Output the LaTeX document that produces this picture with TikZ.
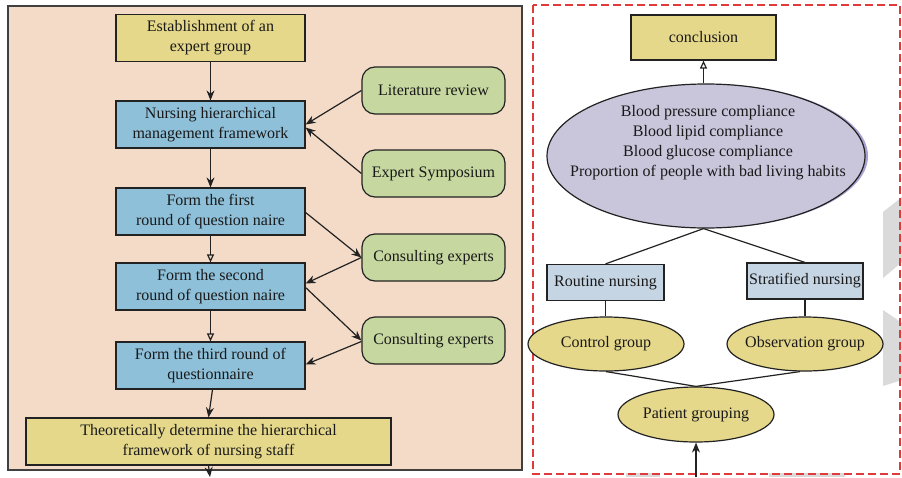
\documentclass[tikz,border=0pt]{standalone}
\usepackage{fontspec}
\setmainfont{Liberation Serif}
\usetikzlibrary{arrows.meta,shapes.geometric}
\definecolor{peach}{HTML}{F3DBC7}
\definecolor{yel}{HTML}{E5D88B}
\definecolor{blu}{HTML}{8FC0D9}
\definecolor{grn}{HTML}{C6D7A0}
\definecolor{lav}{HTML}{C9C5DB}
\definecolor{lavsh}{HTML}{A9A2D0}
\definecolor{gbox}{HTML}{C6D5E4}
\definecolor{edge}{HTML}{222222}
\definecolor{dashred}{HTML}{E03A3A}
\definecolor{wm}{HTML}{DADADA}
\begin{document}
\begin{tikzpicture}[x=1pt,y=-1pt,
  txt/.style={font=\fontsize{16}{20}\selectfont, align=center, text=black!90},
  box/.style={txt, draw=edge, line width=1.2pt, minimum width=189pt, minimum height=47pt, inner sep=1pt},
  ybox/.style={box, fill=yel},
  bbox/.style={box, fill=blu},
  gpill/.style={txt, draw=edge, line width=1.2pt, fill=grn, rounded corners=13pt, minimum width=143pt, minimum height=47pt, inner sep=1pt},
  sbox/.style={txt, draw=edge, line width=1.2pt, fill=gbox, minimum height=36pt, inner sep=1pt},
  yell/.style={txt, ellipse, draw=edge, line width=1.2pt, fill=yel, minimum width=156pt, minimum height=54pt, inner sep=-7pt},
  arr/.style={-{Stealth[length=10pt,width=8pt]}, line width=1.2pt, draw=edge},
  oarr/.style={-{Triangle[open,length=8pt,width=7pt]}, line width=1.2pt, draw=edge},
  ln/.style={line width=1.2pt, draw=edge}]
\useasboundingbox (0,0) rectangle (902,477);
\fill[white] (0,0) rectangle (902,477);
% watermark fragments
\fill[wm] (883,212) -- (902,197) -- (902,262) -- (883,278) -- cycle;
\fill[wm] (883,310) -- (902,323) -- (902,380) -- (883,386) -- cycle;
\fill[wm] (626,473) rectangle (660,477);
\fill[wm] (769,473) rectangle (845,477);
% left panel
\draw[fill=peach, draw=black!75, line width=1.5pt] (8,6) rectangle (522,470);
\node[ybox] (est) at (210.5,38) {Establishment of an\\expert group};
\node[bbox] (nhm) at (210.5,124.5) {Nursing hierarchical\\management framework};
\node[bbox] (first) at (210.5,211.5) {Form the first\\round of question naire};
\node[bbox] (second) at (210.5,286.5) {Form the second\\round of question naire};
\node[bbox] (third) at (210.5,365.5) {Form the third round of\\questionnaire};
\node[ybox, minimum width=365pt] (theo) at (208.5,441.5) {Theoretically determine the hierarchical\\framework of nursing staff};
\node[gpill] (lit) at (433.5,90.5) {Literature review};
\node[gpill] (sym) at (433.5,173.5) {Expert Symposium};
\node[gpill] (ce1) at (433.5,257.5) {Consulting experts};
\node[gpill] (ce2) at (433.5,340.5) {Consulting experts};
\coordinate (lout) at (210,477);
\draw[arr] (est) -- (nhm);
\draw[arr] (nhm) -- (first);
\draw[oarr] (first) -- (second);
\draw[oarr] (second) -- (third);
\draw[arr] ([xshift=2pt]third.south) -- (theo.north);
\draw[arr] (theo.south) -- (lout);
\draw[arr] (lit.west) -- ([yshift=0pt]nhm.east);
\draw[arr] (sym.west) -- ([yshift=-3pt]nhm.east);
\draw[arr] ([yshift=-1pt]first.east) -- (ce1.west);
\draw[arr] (ce1.west) -- ([yshift=3pt]second.east);
\draw[arr] ([yshift=-1pt]second.east) -- (ce2.west);
\draw[arr] ([yshift=-1pt]ce2.west) -- ([yshift=1pt]third.east);
% right panel
\draw[dashred, line width=1.3pt, dash pattern=on 8pt off 4pt] (533,5) rectangle (900,474);
\node[ybox, minimum width=145pt, minimum height=45pt] (concl) at (703.5,37.5) {conclusion};
\fill[lavsh] (708,156) ellipse (160pt and 72pt);
\node[ellipse, draw=edge, line width=1.2pt, fill=lav, minimum width=318pt, minimum height=144pt, inner sep=0pt] (ell) at (706,156) {};
\node[txt] (elltxt) at (708,143) {Blood pressure compliance\\Blood lipid compliance\\Blood glucose compliance\\Proportion of people with bad living habits};
\node[sbox, minimum width=117pt] (rout) at (605.5,282.5) {Routine nursing};
\node[sbox, minimum width=116pt] (strat) at (805,281) {Stratified nursing};
\node[yell] (ctrl) at (606,344) {Control group};
\node[yell] (obs) at (805,344) {Observation group};
\node[yell, minimum height=55pt] (pat) at (696,414.5) {Patient grouping};
\coordinate (rin) at (696,477);
\draw[oarr] (ell.north -| concl.south) -- (concl.south);
\draw[ln] (rout.north) -- (ell.south -| concl.south) -- (strat.north);
\draw[ln] (rout.south) -- (ctrl.north -| rout.south);
\draw[ln] (strat.south) -- (obs.north);
\draw[ln] (ctrl.south) -- (pat.north) -- ([xshift=-5pt]obs.south);
\draw[arr] (rin) -- (pat.south);
\end{tikzpicture}
\end{document}
